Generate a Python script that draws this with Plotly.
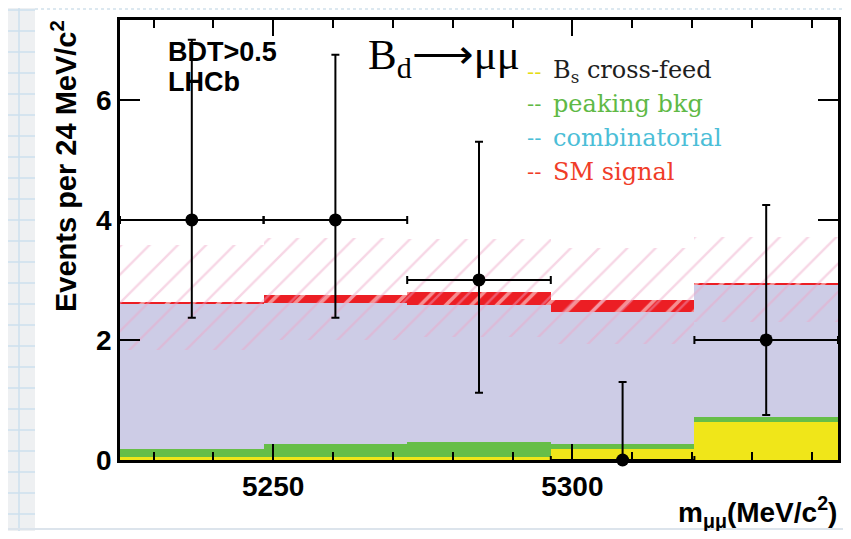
import plotly.graph_objects as go
import numpy as np

# ---------------- data ----------------
bin_centers = [5236.4, 5260.4, 5284.4, 5308.4, 5332.4]
bin_width = 24.0
bs_crossfeed = [0.05, 0.05, 0.05, 0.18, 0.63]
peaking_bkg = [0.13, 0.22, 0.25, 0.09, 0.09]
combinatorial = [2.42, 2.35, 2.28, 2.20, 2.20]
sm_signal = [0.03, 0.13, 0.22, 0.20, 0.03]
band_low = [1.83, 2.00, 2.05, 1.93, 2.30]
band_high = [3.58, 3.70, 3.68, 3.53, 3.72]
data_counts = [4, 4, 3, 0, 2]
err_up = [3.0, 2.75, 2.3, 1.3, 2.25]
err_down = [1.63, 1.63, 1.88, 0.0, 1.25]
x_range = [5224.4, 5344.4]
y_range = [0, 7.33]
legend_labels = ["B<sub>s</sub> cross-feed", "peaking bkg", "combinatorial", "SM signal"]

# ---------------- layout geometry ----------------
# the page body has an 8px margin, so the figure starts at (8, 8) of the window
OFF = 8
W, H = 835, 523
L, R, T, B = 112, 5, 12, 71
PW, PH = W - L - R, H - T - B


def px(x):
    # window pixel x -> paper coordinate
    return (x - OFF - L) / PW


def py(y):
    # window pixel y -> paper coordinate
    return 1 - (y - OFF - T) / PH


yel = np.array(bs_crossfeed)
grn = yel + np.array(peaking_bkg)
lav = grn + np.array(combinatorial)
sig = np.array(sm_signal)
widths = [bin_width] * len(bin_centers)

fig = go.Figure()
fig.add_bar(x=bin_centers, y=lav, width=widths, marker=dict(color="rgb(205,204,230)", line=dict(width=0)),
            showlegend=False, hoverinfo="skip")
fig.add_bar(x=bin_centers, y=grn, width=widths, marker=dict(color="rgb(102,190,72)", line=dict(width=0)),
            showlegend=False, hoverinfo="skip")
fig.add_bar(x=bin_centers, y=yel, width=widths, marker=dict(color="rgb(240,230,25)", line=dict(width=0)),
            showlegend=False, hoverinfo="skip")
fig.add_bar(x=bin_centers, y=sig, base=lav, width=widths,
            marker=dict(color="rgb(236,30,36)", line=dict(width=0),
                        pattern=dict(shape="/", fgcolor="white", size=18, solidity=0.2, fillmode="overlay")),
            showlegend=False, hoverinfo="skip")
fig.add_bar(x=bin_centers, y=np.array(band_high) - np.array(band_low), base=band_low, width=widths,
            marker=dict(color="rgba(0,0,0,0)", line=dict(width=0),
                        pattern=dict(shape="/", fgcolor="rgba(238,165,198,0.9)", bgcolor="rgba(0,0,0,0)",
                                     size=20, solidity=0.12, fillmode="overlay")),
            showlegend=False, hoverinfo="skip")
fig.add_scatter(x=bin_centers, y=data_counts, mode="markers",
                marker=dict(color="black", size=13),
                error_y=dict(type="data", symmetric=False, array=err_up, arrayminus=err_down,
                             color="black", thickness=2, width=4),
                error_x=dict(type="constant", value=bin_width / 2, color="black", thickness=2, width=4),
                cliponaxis=False, showlegend=False)

axis_font = dict(family="Liberation Sans, Arial", size=28, color="black", weight="bold")
fig.update_xaxes(range=x_range, tickvals=[5250, 5300], ticktext=["5250", "5300"],
                 ticks="inside", ticklen=16, tickwidth=2, tickcolor="black",
                 minor=dict(tickvals=[5230, 5240, 5260, 5270, 5280, 5290, 5310, 5320, 5330, 5340],
                            ticks="inside", ticklen=8, tickwidth=2, tickcolor="black"),
                 showline=True, linewidth=2.5, linecolor="black", mirror="all",
                 showgrid=False, zeroline=False, tickfont=axis_font, automargin=False)
fig.update_yaxes(range=y_range, tickvals=[0, 2, 4, 6], ticks="inside", ticklen=20, tickwidth=2,
                 tickcolor="black", showline=True, linewidth=2.5, linecolor="black", mirror="all",
                 showgrid=False, zeroline=False, tickfont=axis_font, automargin=False)

shapes = []
# grid-paper strip on the left
shapes.append(dict(type="rect", xref="paper", yref="paper", x0=px(0), x1=px(35), y0=py(0), y1=py(539),
                   fillcolor="rgb(238,240,242)", line=dict(width=0), layer="below"))
shapes.append(dict(type="line", xref="paper", yref="paper", x0=px(19), x1=px(19), y0=py(0), y1=py(539),
                   line=dict(color="rgb(205,225,238)", width=1.5), layer="below"))
for gy in range(10, 539, 21):
    shapes.append(dict(type="line", xref="paper", yref="paper", x0=px(0), x1=px(35), y0=py(gy), y1=py(gy),
                       line=dict(color="rgb(205,225,238)", width=1.5), layer="below"))
shapes.append(dict(type="line", xref="paper", yref="paper", x0=px(35), x1=px(851), y0=py(9), y1=py(9),
                   line=dict(color="rgb(220,232,240)", width=2, dash="dot"), layer="below"))
shapes.append(dict(type="line", xref="paper", yref="paper", x0=px(0), x1=px(851), y0=py(529), y1=py(529),
                   line=dict(color="rgb(220,228,236)", width=2), layer="below"))

ann = []
ann.append(dict(xref="paper", yref="paper", x=px(64), y=py(18), xanchor="center", yanchor="top",
                textangle=-90, showarrow=False,
                text="<b>Events per 24 MeV/c<sup>2</sup></b>",
                font=dict(family="Liberation Sans, Arial", size=29, color="black")))
ann.append(dict(xref="paper", yref="paper", x=px(839), y=py(512), xanchor="right", yanchor="middle",
                showarrow=False, text="<b>m<sub>μμ</sub>(MeV/c<sup>2</sup>)</b>",
                font=dict(family="Liberation Sans, Arial", size=28, color="black")))
ann.append(dict(xref="paper", yref="paper", x=px(166), y=py(52), xanchor="left", yanchor="middle",
                showarrow=False, text="<b>BDT>0.5</b>",
                font=dict(family="Liberation Sans, Arial", size=27, color="black")))
ann.append(dict(xref="paper", yref="paper", x=px(166), y=py(82), xanchor="left", yanchor="middle",
                showarrow=False, text="<b>LHCb</b>",
                font=dict(family="Liberation Sans, Arial", size=27, color="black")))
ann.append(dict(xref="paper", yref="paper", x=px(366), y=py(58), xanchor="left", yanchor="middle",
                showarrow=False, text="B<sub>d</sub>⟶μμ",
                font=dict(family="Liberation Serif, Times New Roman", size=43, color="black")))

leg_colors = ["rgb(230,220,20)", "rgb(95,185,70)", "rgb(75,190,215)", "rgb(240,60,40)"]
leg_text_colors = ["rgb(30,30,30)", "rgb(95,185,70)", "rgb(75,190,215)", "rgb(240,60,40)"]
leg_y = [72, 104, 138, 172]
for lab, c, tc, ly in zip(legend_labels, leg_colors, leg_text_colors, leg_y):
    ann.append(dict(xref="paper", yref="paper", x=px(525), y=py(ly), xanchor="left", yanchor="middle",
                    showarrow=False, text="--", font=dict(family="DejaVu Sans", size=20, color=c)))
    ann.append(dict(xref="paper", yref="paper", x=px(551), y=py(ly), xanchor="left", yanchor="middle",
                    showarrow=False, text=lab, font=dict(family="DejaVu Serif", size=24, color=tc)))

fig.update_layout(width=W, height=H, margin=dict(l=L, r=R, t=T, b=B, autoexpand=False),
                  paper_bgcolor="white", plot_bgcolor="white",
                  barmode="overlay", bargap=0, shapes=shapes, annotations=ann, showlegend=False)

fig.write_html("out.html")
